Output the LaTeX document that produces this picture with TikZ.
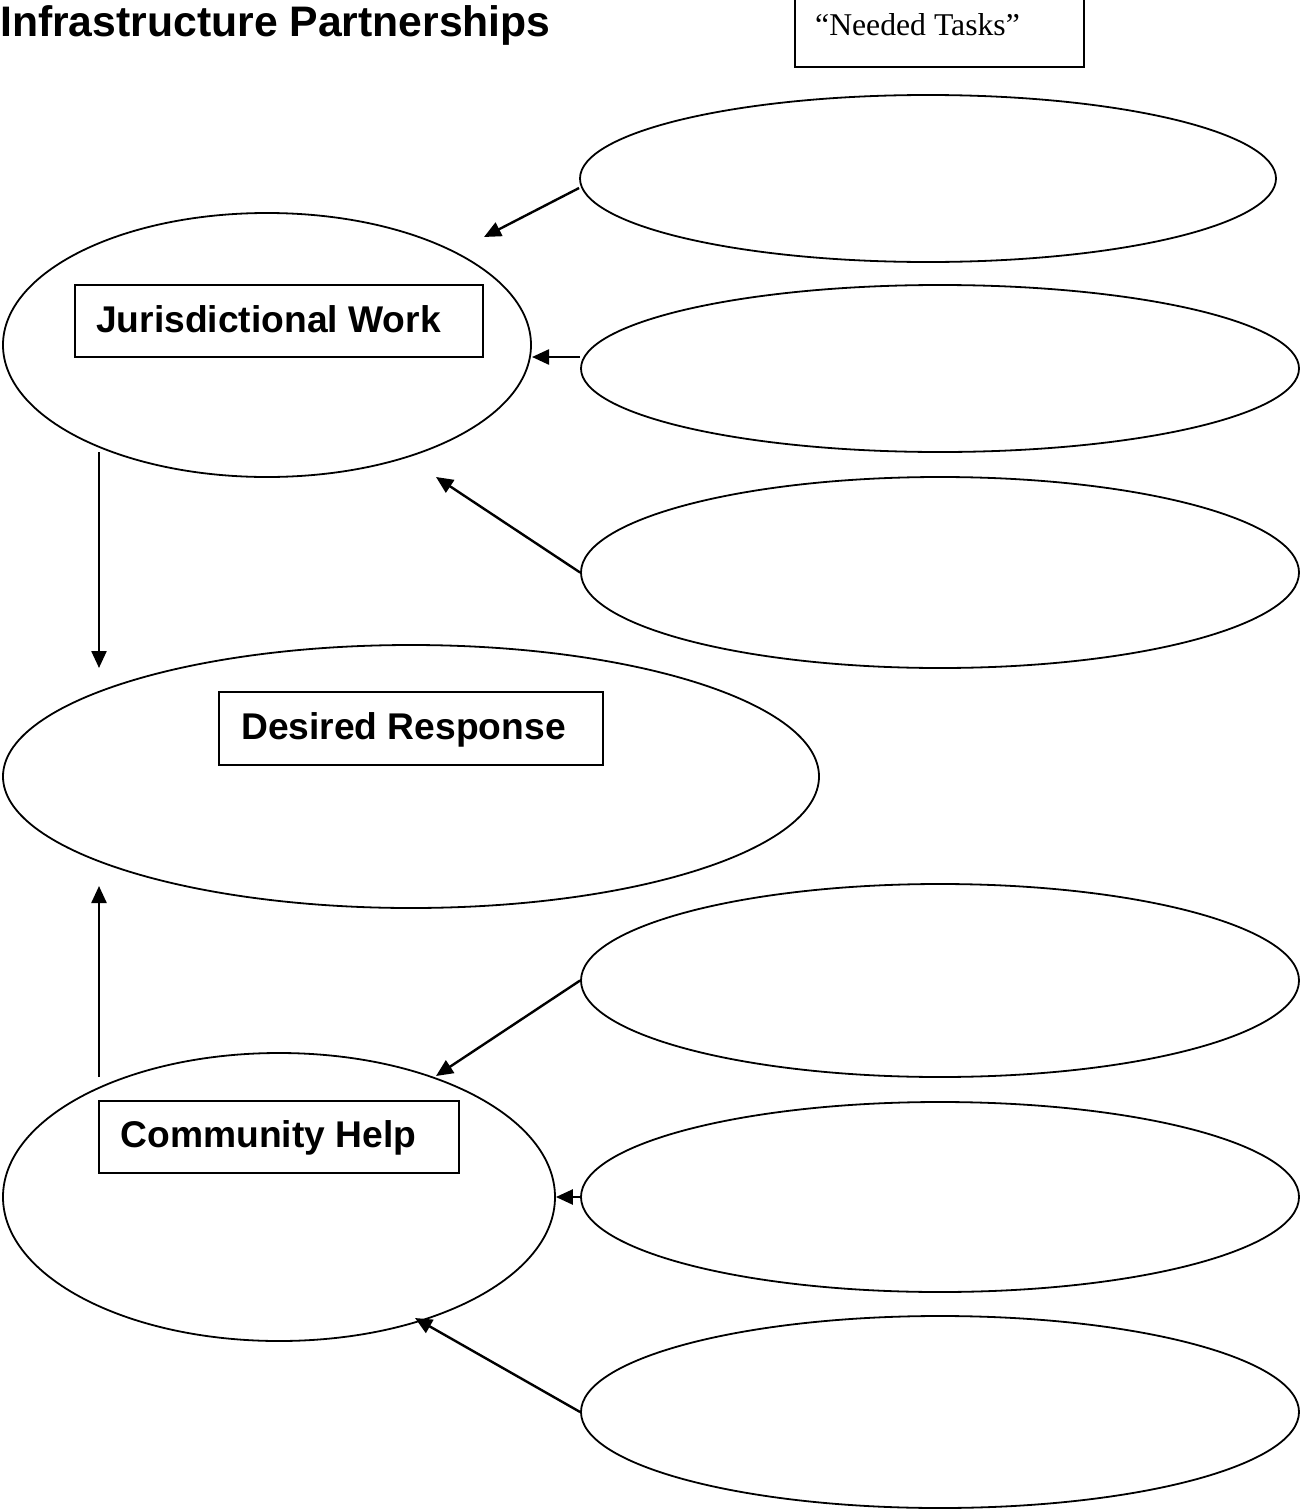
\documentclass[tikz,border=0pt]{standalone}
\usepackage{fontspec}
\setmainfont{Liberation Serif}
\setsansfont{Liberation Sans}
\usetikzlibrary{arrows.meta,shapes.geometric}
\begin{document}
\begin{tikzpicture}[x=1pt,y=-1pt,
  oval/.style={draw,ellipse,line width=1.8pt,inner sep=0pt},
  labelbox/.style={draw,rectangle,line width=2.4pt,inner sep=0pt},
  boldlabel/.style={font=\sffamily\bfseries\fontsize{37.2}{44}\selectfont,inner sep=0pt,anchor=base west},
  arr/.style={line width=2.4pt,-{Triangle[length=17pt,width=15pt]}}]
\useasboundingbox (0,0) rectangle (1300,1510);
\fill[white] (0,0) rectangle (1300,1510);

% title
\node[font=\sffamily\bfseries\fontsize{42.7}{50}\selectfont,inner sep=0pt,anchor=base west] (title) at (0,36) {Infrastructure Partnerships};

% Needed tasks box
\node[draw,rectangle,line width=2pt,minimum width=289pt,minimum height=90pt,inner sep=0pt,anchor=south west] (ntbox) at (794,68) {};
\node[font=\rmfamily\fontsize{31.7}{38}\selectfont,inner sep=0pt,anchor=base west] (nttext) at (815,35.5) {``Needed Tasks''};

% main ellipses
\node[oval,minimum width=528pt,minimum height=264pt] (jur) at (267,345) {};
\node[oval,minimum width=816pt,minimum height=263pt] (des) at (411,776.5) {};
\node[oval,minimum width=552pt,minimum height=288pt] (com) at (279,1197) {};

% label boxes
\node[labelbox,minimum width=408pt,minimum height=72pt] (jurbox) at (279,321) {};
\node[boldlabel] (jurtext) at (96,332) {Jurisdictional Work};
\node[labelbox,minimum width=384pt,minimum height=73pt] (desbox) at (411,728.5) {};
\node[boldlabel] (destext) at (241,739) {Desired Response};
\node[labelbox,minimum width=360pt,minimum height=72pt] (combox) at (279,1137) {};
\node[boldlabel] (comtext) at (120.5,1147) {Community Help};

% task ellipses
\node[oval,minimum width=696pt,minimum height=167pt] (e1) at (928,178.5) {};
\node[oval,minimum width=718pt,minimum height=167pt] (e2) at (940,368.5) {};
\node[oval,minimum width=718pt,minimum height=191pt] (e3) at (940,572.5) {};
\node[oval,minimum width=718pt,minimum height=193pt] (e4) at (940,980.5) {};
\node[oval,minimum width=718pt,minimum height=190pt] (e5) at (940,1197) {};
\node[oval,minimum width=718pt,minimum height=192pt] (e6) at (940,1412) {};

% arrow end coordinates
\coordinate (t1) at (484,237);
\coordinate (t2) at (532,357);
\coordinate (t3) at (436,477);
\coordinate (t4) at (436,1076);
\coordinate (t6) at (415,1318);
\coordinate (jdown) at (99,452);
\coordinate (dtop) at (99,668);
\coordinate (cup) at (99,1077);
\coordinate (dbot) at (99,886);

% connectors
\draw[arr] ([yshift=-9.5pt]e1.west) -- (t1);
\draw[arr] ([yshift=11.5pt]e2.west) -- (t2);
\draw[arr] (e3.west) -- (t3);
\draw[arr] (e4.west) -- (t4);
\draw[arr] (e5.west) -- (com.east);
\draw[arr] (e6.west) -- (t6);
\draw[arr] (jdown) -- (dtop);
\draw[arr] (cup) -- (dbot);
\end{tikzpicture}
\end{document}
